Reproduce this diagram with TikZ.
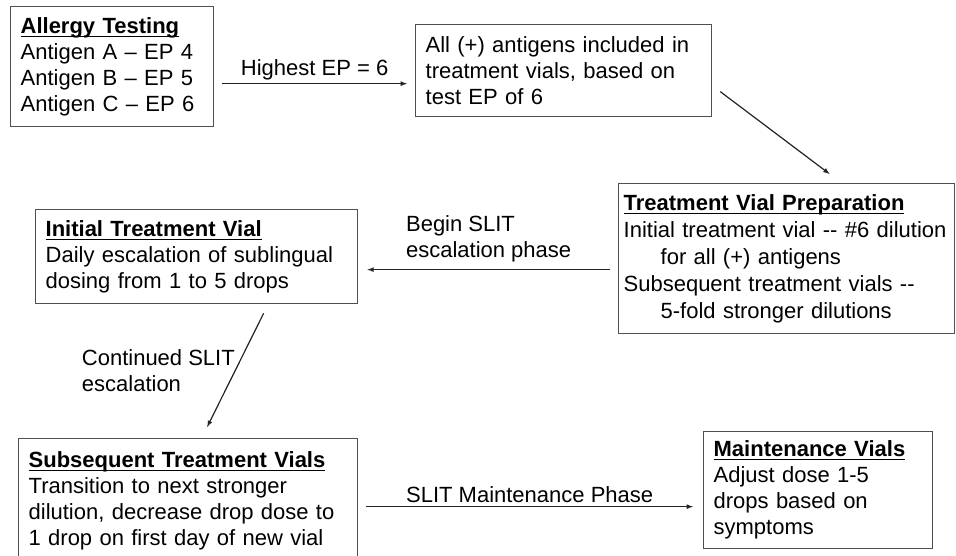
\documentclass[tikz,border=0pt]{standalone}
\usepackage{fontspec}
\setmainfont{Liberation Sans}
\usepackage{calc}
\usepackage{tikz}
\usetikzlibrary{arrows}
\definecolor{boxgray}{RGB}{80, 80, 80}
\definecolor{linegray}{RGB}{35, 35, 35}
\newcommand{\boxtitle}[1]{\textbf{#1}\llap{\rule[-3.5pt]{\widthof{\textbf{#1}}}{1.1pt}}}

\begin{document}
\begin{tikzpicture}[x=1pt, y=-1pt, font=\fontsize{22}{26}\selectfont,
        vial/.style={draw=boxgray, line width=1.3pt, anchor=north west, align=left,
                     inner xsep=10pt, inner ysep=0pt},
        flow/.style={draw=linegray, line width=1.2pt, -latex}]
            \clip (0,0) rectangle (956,556);
            \fill[white] (0,0) rectangle (956,556);
            % boxes, placed at their top left corners
            \node[vial, text width=183pt, minimum height=120pt] (test)  at ( 10,  6)
                 {\boxtitle{Allergy Testing}\\Antigen A -- EP 4\\Antigen B -- EP 5\\Antigen C -- EP 6};
            \node[vial, text width=276pt, minimum height= 92pt] (incl)  at (415, 24)
                 {All (+) antigens included in\\treatment vials, based on\\test EP of 6};
            \node[vial, text width=326pt, minimum height=150pt, inner xsep=5pt,
                  font=\fontsize{22}{27}\selectfont] (prep)  at (618,183)
                 {\boxtitle{Treatment Vial Preparation}\\\mbox{Initial treatment vial -{}- \#6 dilution}\\
                  \hspace*{37pt}for all (+) antigens\\Subsequent treatment vials -{}-\\
                  \hspace*{37pt}5-fold stronger dilutions};
            \node[vial, text width=302pt, minimum height= 94pt] (init)  at ( 35,209)
                 {\boxtitle{Initial Treatment Vial}\\Daily escalation of sublingual\\dosing from 1 to 5 drops};
            \node[vial, text width=319pt, minimum height=124pt] (subs)  at ( 18,438)
                 {\boxtitle{Subsequent Treatment Vials}\\Transition to next stronger\\dilution, decrease drop dose to\\1 drop on first day of new vial};
            \node[vial, text width=209pt, minimum height=117pt] (maint) at (703,431)
                 {\boxtitle{Maintenance Vials}\\Adjust dose 1-5\\drops based on\\symptoms};
            % connectors
            \draw[flow] ([xshift=8pt,yshift=-17pt]test.east) -- node[above] {Highest EP = 6}
                        ([xshift=-8pt,yshift=-13pt]incl.west);
            \draw[flow] ([xshift=8pt,yshift=-21pt]incl.east) -- ([xshift=43pt,yshift=9pt]prep.north);
            \draw[flow] ([xshift=-8pt,yshift=-11pt]prep.west) --
                        node[above, align=left, yshift=4pt] {Begin SLIT\\escalation phase}
                        ([xshift=9pt,yshift=-13pt]init.east);
            \draw[flow] ([xshift=67pt,yshift=-9pt]init.south) --
                        node[left, align=left, inner sep=0pt] {Continued SLIT\\escalation}
                        ([xshift=19pt,yshift=11pt]subs.north);
            \draw[flow] ([xshift=8pt,yshift=-6pt]subs.east) -- node[above] {SLIT Maintenance Phase}
                        ([xshift=-10pt,yshift=-16.5pt]maint.west);
\end{tikzpicture}
\end{document}
